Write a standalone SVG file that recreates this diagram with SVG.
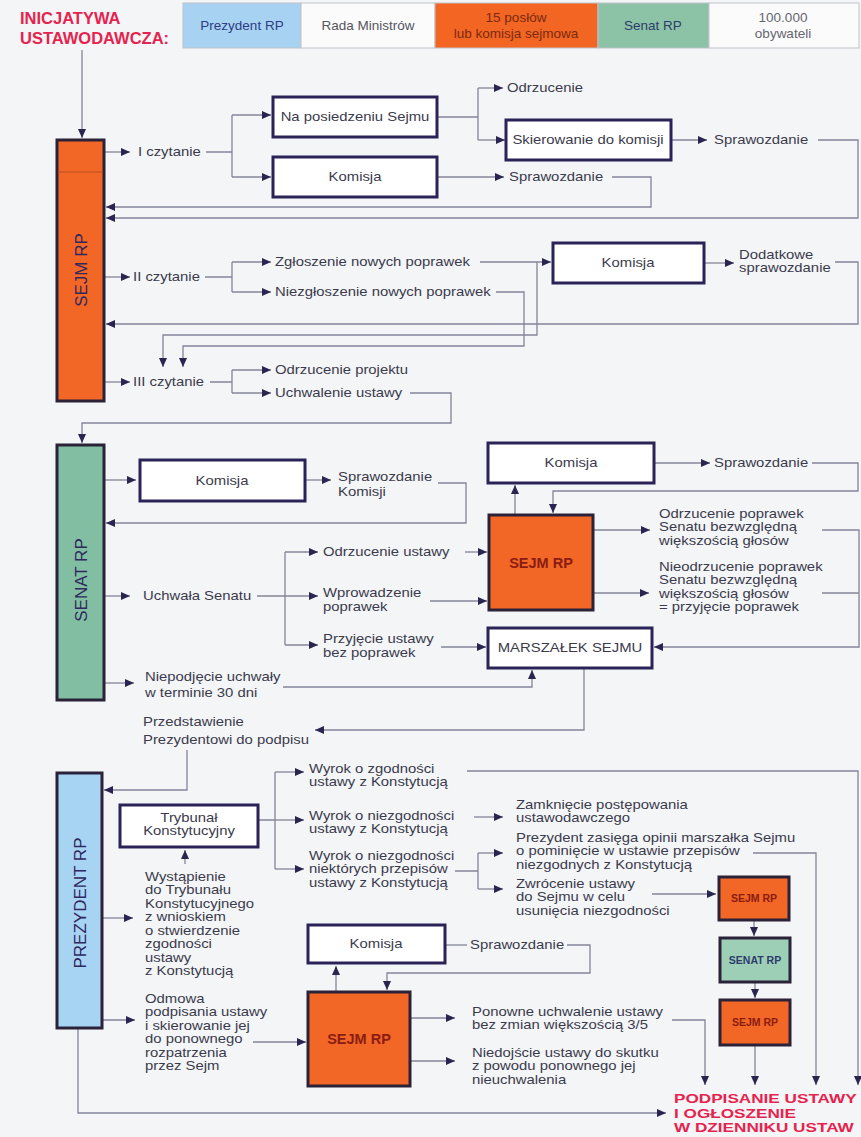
<svg xmlns="http://www.w3.org/2000/svg" width="861" height="1137" viewBox="0 0 861 1137">
<defs>
<marker id="ah" viewBox="0 0 9 8" refX="9" refY="4" markerWidth="9" markerHeight="8" markerUnits="userSpaceOnUse" orient="auto"><path d="M0,0 L9,4 L0,8 z" fill="#2a2450"/></marker>
<style>
text{font-family:"Liberation Sans",Arial,Helvetica,sans-serif;font-size:12px;fill:#3b3b4c}
.m{text-anchor:middle}
.bx{fill:#fff;stroke:#2b2258;stroke-width:3}
.or{fill:#f26626;stroke:#2b2238;stroke-width:3}
.ln{fill:none;stroke:#84849a;stroke-width:1.3}
.a{marker-end:url(#ah)}
.red{fill:#e5234e;font-weight:bold;font-size:16.5px}
.red2{fill:#e5234e;font-weight:bold;font-size:13px}
.side{font-size:17px;fill:#30285e}
.sj{font-weight:bold;fill:#8a1c12;font-size:14.5px}
.sm{font-weight:bold;font-size:10.5px}
.hd{font-size:13.5px}
.hb{stroke:#c0c2ca;stroke-width:1}
</style>
</defs>
<rect width="861" height="1137" fill="#f3f5f7"/>

<g id="header">
<text class="red" x="20" y="24">INICJATYWA</text>
<text class="red" x="20" y="44">USTAWODAWCZA:</text>
<rect class="hb" x="183" y="3" width="118" height="45" fill="#a7d2f2"/>
<rect class="hb" x="301" y="3" width="134" height="45" fill="#fbfbfb"/>
<rect class="hb" x="435" y="3" width="163" height="45" fill="#f26522"/>
<rect class="hb" x="598" y="3" width="111" height="45" fill="#8cc3a7"/>
<rect class="hb" x="709" y="3" width="150" height="45" fill="#fbfbfb"/>
<text class="hd m" x="242" y="30" style="fill:#2d3c84">Prezydent RP</text>
<text class="hd m" x="368" y="30" style="fill:#555560">Rada Ministrów</text>
<text class="hd m" x="516" y="22" style="fill:#7a2a12">15 posłów</text>
<text class="hd m" x="516" y="38" style="fill:#7a2a12">lub komisja sejmowa</text>
<text class="hd m" x="653" y="30" style="fill:#2d3c6a">Senat RP</text>
<text class="hd m" x="783" y="22" style="fill:#666670">100.000</text>
<text class="hd m" x="783" y="38" style="fill:#666670">obywateli</text>
</g>

<g id="connectors">
<path class="ln a" d="M82,50 V138"/>
<path class="ln a" d="M104,152 H130"/>
<path class="ln" d="M206,152 H232 M232,115 V177"/>
<path class="ln a" d="M232,115 H271"/>
<path class="ln a" d="M232,177 H271"/>
<path class="ln" d="M437,117 H478 M478,88 V140"/>
<path class="ln a" d="M478,88 H503"/>
<path class="ln a" d="M478,140 H505"/>
<path class="ln a" d="M671,140 H707"/>
<path class="ln a" d="M818,140 H858 V218 H106"/>
<path class="ln a" d="M437,177 H504"/>
<path class="ln a" d="M612,177 H651 V207 H106"/>
<path class="ln a" d="M104,277 H130"/>
<path class="ln" d="M205,277 H232 M232,262 V292"/>
<path class="ln a" d="M232,262 H271"/>
<path class="ln a" d="M232,292 H271"/>
<path class="ln a" d="M480,262 H551"/>
<path class="ln a" d="M537,262 V335 H163 V367"/>
<path class="ln a" d="M496,292 H524 V346 H183 V367"/>
<path class="ln a" d="M704,263 H734"/>
<path class="ln a" d="M835,262 H858 V324 H106"/>
<path class="ln a" d="M104,382 H130"/>
<path class="ln" d="M210,382 H232 M232,370 V393"/>
<path class="ln a" d="M232,370 H271"/>
<path class="ln a" d="M232,393 H271"/>
<path class="ln a" d="M410,393 H451 V423 H82 V443"/>

<path class="ln a" d="M104,480 H136"/>
<path class="ln a" d="M305,480 H331"/>
<path class="ln a" d="M438,483 H466 V523 H106"/>
<path class="ln a" d="M104,596 H130"/>
<path class="ln a" d="M257,596 H318"/>
<path class="ln" d="M285,552 V645"/>
<path class="ln a" d="M285,552 H318"/>
<path class="ln a" d="M285,645 H318"/>
<path class="ln a" d="M465,552 H487"/>
<path class="ln a" d="M430,601 H487"/>
<path class="ln a" d="M441,647 H486"/>
<path class="ln a" d="M104,683 H134"/>
<path class="ln a" d="M283,687 H532 V670"/>
<path class="ln a" d="M584,668 V730 H315"/>
<path class="ln a" d="M187,750 V790 H104"/>
<path class="ln a" d="M654,463 H710"/>
<path class="ln a" d="M812,463 H858 V491 H553 V513"/>
<path class="ln a" d="M515,515 V485"/>
<path class="ln a" d="M593,530 H650"/>
<path class="ln a" d="M593,593 H649"/>
<path class="ln a" d="M822,530 H859 V647 H654"/>
<path class="ln" d="M822,593 H859"/>

<path class="ln" d="M258,820 H275 M275,772 V869"/>
<path class="ln a" d="M275,772 H304"/>
<path class="ln a" d="M275,820 H304"/>
<path class="ln a" d="M275,869 H304"/>
<path class="ln a" d="M467,771 H858 V1085"/>
<path class="ln a" d="M474,817 H503"/>
<path class="ln" d="M455,871 H478 M478,853 V889"/>
<path class="ln a" d="M478,853 H503"/>
<path class="ln a" d="M478,889 H503"/>
<path class="ln a" d="M753,853 H816 V1085"/>
<path class="ln a" d="M652,894 H716"/>
<path class="ln a" d="M754,920 V936"/>
<path class="ln a" d="M755,982 V998"/>
<path class="ln a" d="M755,1045 V1085"/>
<path class="ln a" d="M185,864 V850"/>
<path class="ln a" d="M102,918 H133"/>
<path class="ln a" d="M102,1020 H135"/>
<path class="ln a" d="M253,1042 H306"/>
<path class="ln a" d="M336,992 V966"/>
<path class="ln" d="M445,945 H467"/>
<path class="ln a" d="M567,945 H590 V973 H387 V990"/>
<path class="ln a" d="M410,1018 H455"/>
<path class="ln a" d="M410,1061 H455"/>
<path class="ln a" d="M672,1020 H705 V1085"/>
<path class="ln a" d="M78,1028 V1113 H666"/>
</g>

<g id="sejm">
<rect class="or" x="57" y="140" width="47" height="261"/>
<line x1="58.5" y1="172" x2="102.5" y2="172" stroke="#b8501e" stroke-width="1"/>
<text class="side m" transform="translate(87,270) rotate(-90)">SEJM RP</text>
</g>
<g id="czytanie1"><text transform="translate(138 0) scale(1.24 1)" y="156.3">I czytanie</text></g>
<g id="posiedzenie"><rect class="bx" x="273" y="97" width="164" height="40"/><text class="m" transform="translate(355 0) scale(1.24 1)" y="121.3">Na posiedzeniu Sejmu</text></g>
<g id="komisja1"><rect class="bx" x="273" y="157" width="164" height="40"/><text class="m" transform="translate(355 0) scale(1.24 1)" y="181.3">Komisja</text></g>
<g id="odrzucenie1"><text transform="translate(507 0) scale(1.24 1)" y="92.3">Odrzucenie</text></g>
<g id="skierowanie"><rect class="bx" x="506" y="120" width="165" height="40"/><text class="m" transform="translate(588 0) scale(1.24 1)" y="144.3">Skierowanie do komisji</text></g>
<g id="sprawozdanie1"><text transform="translate(714 0) scale(1.24 1)" y="144.3">Sprawozdanie</text></g>
<g id="sprawozdanie2"><text transform="translate(509 0) scale(1.24 1)" y="181.3">Sprawozdanie</text></g>
<g id="czytanie2"><text transform="translate(133 0) scale(1.24 1)" y="281.3">II czytanie</text></g>
<g id="zgloszenie"><text transform="translate(275 0) scale(1.24 1)" y="266.3">Zgłoszenie nowych poprawek</text></g>
<g id="niezgloszenie"><text transform="translate(275 0) scale(1.24 1)" y="296.3">Niezgłoszenie nowych poprawek</text></g>
<g id="komisja2"><rect class="bx" x="553" y="243" width="151" height="40"/><text class="m" transform="translate(628 0) scale(1.24 1)" y="267.3">Komisja</text></g>
<g id="dodatkowe"><g transform="translate(739 0) scale(1.24 1)"><text y="259">Dodatkowe</text><text y="272.5">sprawozdanie</text></g></g>
<g id="czytanie3"><text transform="translate(133 0) scale(1.24 1)" y="386.3">III czytanie</text></g>
<g id="odrzucenie-projektu"><text transform="translate(275 0) scale(1.24 1)" y="374.3">Odrzucenie projektu</text></g>
<g id="uchwalenie"><text transform="translate(275 0) scale(1.24 1)" y="397.3">Uchwalenie ustawy</text></g>

<g id="senat">
<rect x="57" y="445" width="47" height="255" fill="#82bfa2" stroke="#2a2238" stroke-width="3"/>
<text class="side m" transform="translate(87,580) rotate(-90)">SENAT RP</text>
</g>
<g id="komisja-senat"><rect class="bx" x="140" y="460" width="165" height="41"/><text class="m" transform="translate(222 0) scale(1.24 1)" y="485">Komisja</text></g>
<g id="sprawozdanie-komisji"><g transform="translate(338 0) scale(1.24 1)"><text y="481">Sprawozdanie</text><text y="496">Komisji</text></g></g>
<g id="uchwala"><text transform="translate(143 0) scale(1.24 1)" y="600.3">Uchwała Senatu</text></g>
<g id="odrzucenie-ustawy"><text transform="translate(323 0) scale(1.24 1)" y="556.3">Odrzucenie ustawy</text></g>
<g id="wprowadzenie"><g transform="translate(323 0) scale(1.24 1)"><text y="597">Wprowadzenie</text><text y="611">poprawek</text></g></g>
<g id="przyjecie"><g transform="translate(323 0) scale(1.24 1)"><text y="643">Przyjęcie ustawy</text><text y="657">bez poprawek</text></g></g>
<g id="niepodjecie"><g transform="translate(145 0) scale(1.24 1)"><text y="681">Niepodjęcie uchwały</text><text y="697">w terminie 30 dni</text></g></g>
<g id="przedstawienie"><g transform="translate(143 0) scale(1.24 1)"><text y="726">Przedstawienie</text><text y="744">Prezydentowi do podpisu</text></g></g>
<g id="komisja3"><rect class="bx" x="488" y="443" width="166" height="40"/><text class="m" transform="translate(571 0) scale(1.24 1)" y="467.3">Komisja</text></g>
<g id="sprawozdanie3"><text transform="translate(714 0) scale(1.24 1)" y="467.3">Sprawozdanie</text></g>
<g id="sejm2"><rect class="or" x="489" y="515" width="104" height="95"/><text class="sj m" x="541" y="568">SEJM RP</text></g>
<g id="odrzucenie-poprawek"><g transform="translate(659 0) scale(1.24 1)"><text y="518">Odrzucenie poprawek</text><text y="531.5">Senatu bezwzględną</text><text y="545">większością głosów</text></g></g>
<g id="nieodrzucenie"><g transform="translate(659 0) scale(1.24 1)"><text y="571">Nieodrzucenie poprawek</text><text y="584.5">Senatu bezwzględną</text><text y="598">większością głosów</text><text y="611.5">= przyjęcie poprawek</text></g></g>
<g id="marszalek"><rect class="bx" x="488" y="628" width="164" height="40"/><text class="m" transform="translate(570 0) scale(1.24 1)" y="652.3">MARSZAŁEK SEJMU</text></g>

<g id="prezydent">
<rect x="57" y="773" width="45" height="255" fill="#a8d4f4" stroke="#2a2238" stroke-width="3"/>
<text class="side m" transform="translate(86,903) rotate(-90)">PREZYDENT RP</text>
</g>
<g id="trybunal"><rect class="bx" x="120" y="805" width="138" height="42"/><g transform="translate(189 0) scale(1.24 1)"><text class="m" y="822">Trybunał</text><text class="m" y="835.5">Konstytucyjny</text></g></g>
<g id="wyrok-zgodnosc"><g transform="translate(309 0) scale(1.24 1)"><text y="773">Wyrok o zgodności</text><text y="786.5">ustawy z Konstytucją</text></g></g>
<g id="wyrok-niezgodnosc"><g transform="translate(309 0) scale(1.24 1)"><text y="820">Wyrok o niezgodności</text><text y="833.5">ustawy z Konstytucją</text></g></g>
<g id="wyrok-czesc"><g transform="translate(309 0) scale(1.24 1)"><text y="860">Wyrok o niezgodności</text><text y="873.5">niektórych przepisów</text><text y="887">ustawy z Konstytucją</text></g></g>
<g id="zamkniecie"><g transform="translate(516 0) scale(1.24 1)"><text y="809">Zamknięcie postępowania</text><text y="822.5">ustawodawczego</text></g></g>
<g id="opinia"><g transform="translate(516 0) scale(1.24 1)"><text y="842">Prezydent zasięga opinii marszałka Sejmu</text><text y="855.5">o pominięcie w ustawie przepisów</text><text y="869">niezgodnych z Konstytucją</text></g></g>
<g id="zwrocenie"><g transform="translate(516 0) scale(1.24 1)"><text y="888">Zwrócenie ustawy</text><text y="901.5">do Sejmu w celu</text><text y="915">usunięcia niezgodności</text></g></g>
<g id="wystapienie"><g transform="translate(145 0) scale(1.24 1)"><text y="881">Wystąpienie</text><text y="894.5">do Trybunału</text><text y="908">Konstytucyjnego</text><text y="921.5">z wnioskiem</text><text y="935">o stwierdzenie</text><text y="948.5">zgodności</text><text y="962">ustawy</text><text y="975.5">z Konstytucją</text></g></g>
<g id="odmowa"><g transform="translate(145 0) scale(1.24 1)"><text y="1003">Odmowa</text><text y="1016.5">podpisania ustawy</text><text y="1030">i skierowanie jej</text><text y="1043.5">do ponownego</text><text y="1057">rozpatrzenia</text><text y="1070.5">przez Sejm</text></g></g>
<g id="komisja4"><rect class="bx" x="308" y="925" width="137" height="38"/><text class="m" transform="translate(376 0) scale(1.24 1)" y="948.3">Komisja</text></g>
<g id="sprawozdanie4"><text transform="translate(470 0) scale(1.24 1)" y="949.3">Sprawozdanie</text></g>
<g id="sejm3"><rect class="or" x="308" y="992" width="102" height="94"/><text class="sj m" x="359" y="1044">SEJM RP</text></g>
<g id="ponowne"><g transform="translate(472 0) scale(1.24 1)"><text y="1016">Ponowne uchwalenie ustawy</text><text y="1029.5">bez zmian większością 3/5</text></g></g>
<g id="niedojscie"><g transform="translate(472 0) scale(1.24 1)"><text y="1057">Niedojście ustawy do skutku</text><text y="1070.5">z powodu ponownego jej</text><text y="1084">nieuchwalenia</text></g></g>
<g id="sejm-small1"><rect class="or" x="719" y="877" width="70" height="43"/><text class="sm m" x="754" y="902" style="fill:#8a1c12">SEJM RP</text></g>
<g id="senat-small"><rect x="720" y="938" width="70" height="44" fill="#9ccfb6" stroke="#2a2238" stroke-width="3"/><text class="sm m" x="755" y="964" style="fill:#2d3c6a">SENAT RP</text></g>
<g id="sejm-small2"><rect class="or" x="720" y="1000" width="70" height="45"/><text class="sm m" x="755" y="1026" style="fill:#8a1c12">SEJM RP</text></g>
<g id="podpisanie"><g transform="translate(674 0) scale(1.32 1)">
<text class="red2" y="1103.5">PODPISANIE USTAWY</text>
<text class="red2" y="1118">I OGŁOSZENIE</text>
<text class="red2" y="1132.5">W DZIENNIKU USTAW</text>
</g></g>
</svg>
